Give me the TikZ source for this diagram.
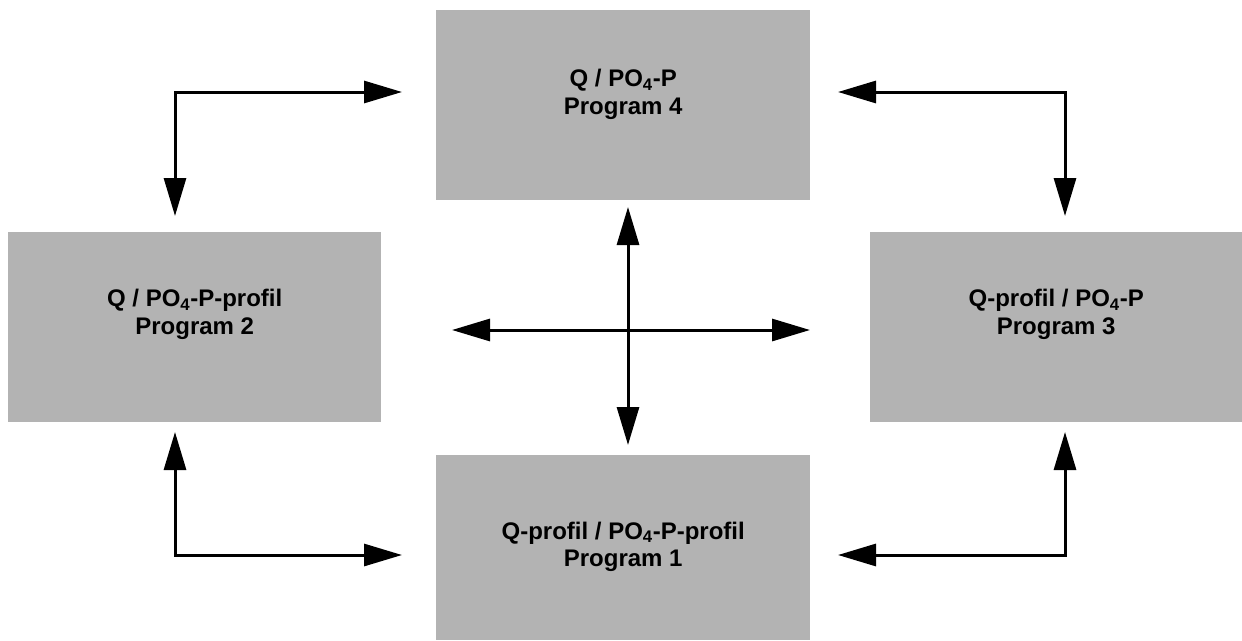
\documentclass[tikz,border=0pt]{standalone}
\usepackage{fontspec}
\setmainfont{Liberation Sans}
\usetikzlibrary{arrows.meta}
\definecolor{boxgray}{RGB}{179,179,179}
\tikzset{
  progbox/.style={fill=boxgray, draw=none, inner sep=0pt, anchor=north west},
  progtext/.style={align=center, font=\fontsize{24}{27.5}\selectfont\bfseries, inner sep=0pt},
  link/.style={line width=3pt, {Triangle[length=38pt,width=22pt]}-{Triangle[length=38pt,width=22pt]}}
}
\begin{document}
\begin{tikzpicture}[x=1pt,y=-1pt]
  \useasboundingbox (0,0) rectangle (1242,640);

  % the four program boxes
  \node[progbox, minimum width=374pt, minimum height=190pt] (p4) at (436,10) {};
  \node[progbox, minimum width=373pt, minimum height=190pt] (p2) at (8,232) {};
  \node[progbox, minimum width=372pt, minimum height=190pt] (p3) at (870,232) {};
  \node[progbox, minimum width=374pt, minimum height=185pt] (p1) at (436,455) {};

  % labels, set above each box centre
  \node[progtext] (t4) at ([yshift=11pt]p4.center) {Q / PO\textsubscript{4}-P\\Program 4};
  \node[progtext] (t2) at ([yshift=13pt]p2.center) {Q / PO\textsubscript{4}-P-profil\\Program 2};
  \node[progtext] (t3) at ([yshift=13pt]p3.center) {Q-profil / PO\textsubscript{4}-P\\Program 3};
  \node[progtext] (t1) at ([yshift=1pt]p1.center) {Q-profil / PO\textsubscript{4}-P-profil\\Program 1};

  % end points and corners of the connectors
  \coordinate (tlc) at (175,92);   \coordinate (tla) at (402,92);   \coordinate (tlb) at (175,216);
  \coordinate (trc) at (1065,92);  \coordinate (tra) at (838,92);   \coordinate (trb) at (1065,216);
  \coordinate (blc) at (175,555);  \coordinate (bla) at (402,555);  \coordinate (blb) at (175,432);
  \coordinate (brc) at (1065,555); \coordinate (bra) at (838,555);  \coordinate (brb) at (1065,432);
  \coordinate (cn) at (628,207);   \coordinate (cs) at (628,445);
  \coordinate (cw) at (452,330);   \coordinate (ce) at (810,330);

  % corner connectors
  \draw[link] (tlb) -- (tlc) -- (tla);
  \draw[link] (trb) -- (trc) -- (tra);
  \draw[link] (blb) -- (blc) -- (bla);
  \draw[link] (brb) -- (brc) -- (bra);

  % central cross
  \draw[link] (cn) -- (cs);
  \draw[link] (cw) -- (ce);
\end{tikzpicture}
\end{document}
